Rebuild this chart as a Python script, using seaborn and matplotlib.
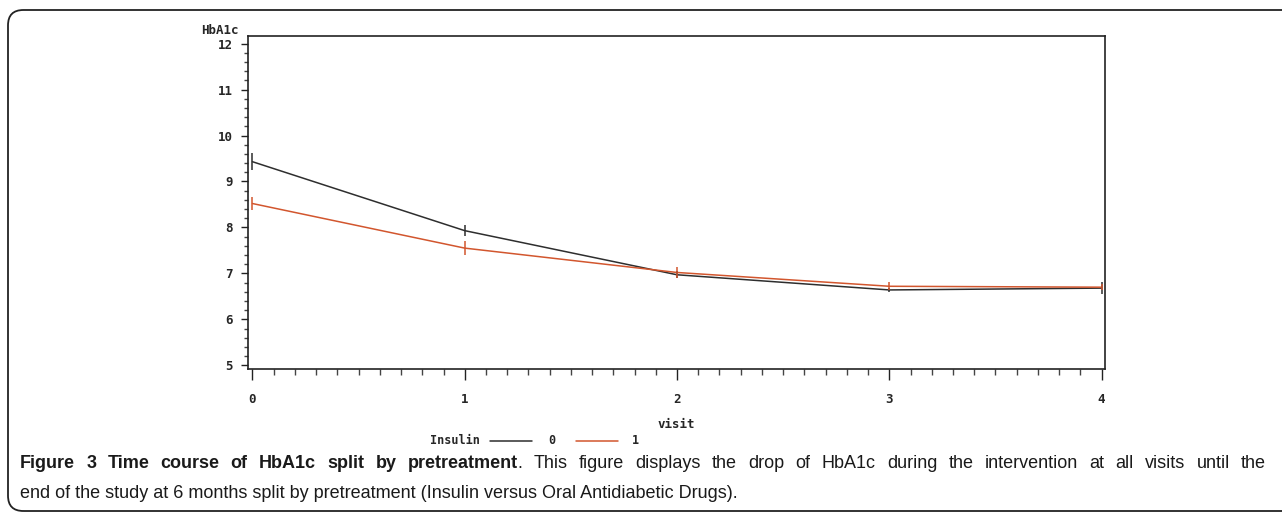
import numpy as np
import pandas as pd
import matplotlib
matplotlib.use("Agg")
import matplotlib.pyplot as plt
import seaborn as sns
from matplotlib.patches import FancyBboxPatch
from matplotlib.ticker import MultipleLocator

# ---- data ----
visits = [0, 1, 2, 3, 4]
hba1c_ins0 = [9.43, 7.93, 6.97, 6.64, 6.68]
hba1c_ins1 = [8.52, 7.55, 7.02, 6.72, 6.70]
err_ins0 = [0.18, 0.12, 0.08, 0.05, 0.13]
err_ins1 = [0.14, 0.16, 0.12, 0.09, 0.07]
groups = ["0", "1"]
y_ticks = [5, 6, 7, 8, 9, 10, 11, 12]
x_ticks = [0, 1, 2, 3, 4]

caption_bold = "Figure 3 Time course of HbA1c split by pretreatment"
caption_rest1 = ". This figure displays the drop of HbA1c during the intervention at all visits until the"
caption_line2 = "end of the study at 6 months split by pretreatment (Insulin versus Oral Antidiabetic Drugs)."

colors = {"0": "#2e2e2e", "1": "#d2562e"}

df = pd.DataFrame({
    "visit": visits * 2,
    "HbA1c": hba1c_ins0 + hba1c_ins1,
    "err": err_ins0 + err_ins1,
    "Insulin": [groups[0]] * len(visits) + [groups[1]] * len(visits),
})

sns.set_style("white")
plt.rcParams["font.family"] = ["DejaVu Sans"]

W, H = 1282, 517
fig = plt.figure(figsize=(W / 100, H / 100), dpi=100)

# outer rounded frame
frame = FancyBboxPatch((8 / W, 6 / H), (W + 40) / W, (H - 16) / H,
                       boxstyle="round,pad=0,rounding_size=0.012",
                       transform=fig.transFigure, fill=False,
                       edgecolor="#222222", linewidth=1.3, mutation_aspect=W / H)
fig.patches.append(frame)

ax = fig.add_axes([248 / W, 1 - 369 / H, (1105 - 248) / W, (369 - 36) / H])
sns.lineplot(data=df, x="visit", y="HbA1c", hue="Insulin", palette=colors,
             ax=ax, linewidth=1.1, legend=False, errorbar=None)
for g in groups:
    sub = df[df["Insulin"] == g]
    ax.errorbar(sub["visit"], sub["HbA1c"], yerr=sub["err"], fmt="none",
                ecolor=colors[g], elinewidth=1.1, capsize=0)

ax.set_xlim(-0.021, 4.016)
ax.set_ylim(4.92, 12.165)
ax.set_xticks(x_ticks)
ax.set_yticks(y_ticks)
ax.xaxis.set_minor_locator(MultipleLocator(0.1))
ax.yaxis.set_minor_locator(MultipleLocator(0.2))
tick_font = {"family": "DejaVu Sans Mono", "weight": "bold", "size": 9}
ax.set_xticklabels([str(v) for v in x_ticks], fontdict=tick_font)
ax.set_yticklabels([str(v) for v in y_ticks], fontdict=tick_font)
ax.tick_params(axis="x", which="major", direction="out", length=8, width=1,
               color="#222222", pad=9, bottom=True)
ax.tick_params(axis="x", which="minor", direction="out", length=4, width=1,
               color="#444444", bottom=True)
ax.tick_params(axis="y", which="major", direction="out", length=5, width=1,
               color="#222222", pad=6, left=True)
ax.tick_params(axis="y", which="minor", direction="out", length=3, width=1,
               color="#444444", left=True)
for s in ax.spines.values():
    s.set_visible(True)
    s.set_color("#222222")
    s.set_linewidth(1.2)
ax.set_xlabel("visit", fontdict=tick_font, labelpad=9)
ax.set_ylabel("")
fig.text(239 / W, 1 - 30 / H, "HbA1c", ha="right", va="center", **tick_font)

# legend row
ly = 1 - 441 / H
leg_font = {"family": "DejaVu Sans Mono", "weight": "bold", "size": 8.5}
fig.text(430 / W, ly, "Insulin", ha="left", va="center", **leg_font)
fig.lines.append(plt.Line2D([490 / W, 532 / W], [ly, ly], transform=fig.transFigure,
                            color=colors["0"], linewidth=1.1))
fig.text(548 / W, ly, groups[0], ha="left", va="center", **leg_font)
fig.lines.append(plt.Line2D([576 / W, 618 / W], [ly, ly], transform=fig.transFigure,
                            color=colors["1"], linewidth=1.1))
fig.text(632 / W, ly, groups[1], ha="left", va="center", **leg_font)

# caption
cap_family = ["Liberation Sans", "DejaVu Sans"]
cap_size = 13
fig.canvas.draw()
renderer = fig.canvas.get_renderer()

segments_list = []
for w in caption_bold.split(" "):
    segments_list.append([w, "bold", True])
rest_words = caption_rest1.split(" ")
segments_list.append([rest_words[0], "normal", False])  # the period
for w in rest_words[1:]:
    segments_list.append([w, "normal", True])

x0, x1 = 20, 1266
y1 = 1 - 463 / H
widths = []
for w, wt, _ in segments_list:
    t = fig.text(0, 0, w, fontsize=cap_size, family=cap_family, weight=wt)
    widths.append(t.get_window_extent(renderer).width)
    t.remove()
n_gaps = sum(1 for s in segments_list[1:] if s[2])
gap = (x1 - x0 - sum(widths)) / max(n_gaps, 1)
x = x0
for i, (w, wt, g) in enumerate(segments_list):
    if i > 0 and g:
        x += gap
    fig.text(x / W, y1, w, fontsize=cap_size, family=cap_family, weight=wt,
             ha="left", va="center", color="#1a1a1a")
    x += widths[i]

fig.text(x0 / W, 1 - 494 / H, caption_line2, fontsize=cap_size, family=cap_family,
         ha="left", va="center", color="#1a1a1a")

fig.savefig("out.png", dpi=100)
